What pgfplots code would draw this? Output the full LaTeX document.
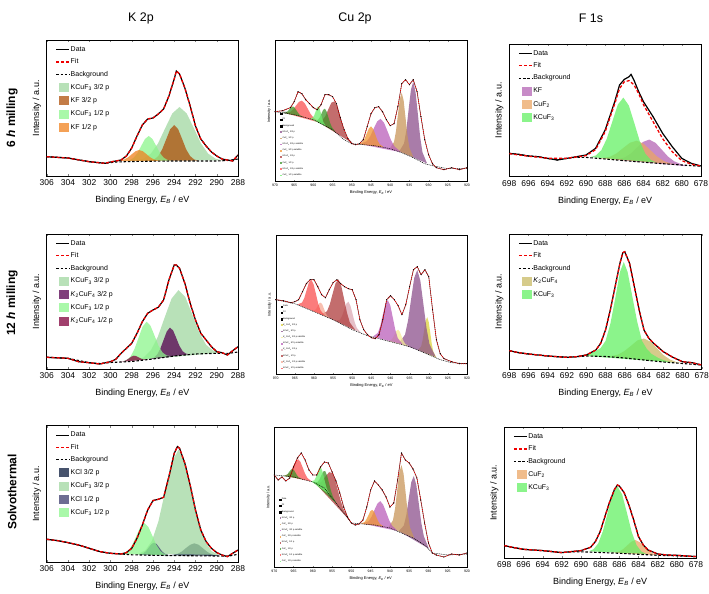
\documentclass[border=0pt]{standalone}
\usepackage{fontspec}
\setmainfont{Liberation Sans}
\usepackage{pgfplots}
\usepackage{pgfplotstable}
\pgfplotsset{compat=1.18}

% component colours
\definecolor{fitred}{RGB}{240,0,0}
\definecolor{gKa}{RGB}{160,215,160}
\definecolor{gKb}{RGB}{140,245,140}
\definecolor{kfa}{RGB}{175,80,10}
\definecolor{kfb}{RGB}{240,130,30}
\definecolor{ktwoa}{RGB}{85,0,80}
\definecolor{ktwob}{RGB}{130,0,60}
\definecolor{kcla}{RGB}{10,25,60}
\definecolor{kclb}{RGB}{60,60,110}
\definecolor{fKF}{RGB}{180,100,180}
\definecolor{fCu}{RGB}{235,165,100}
\definecolor{fK}{RGB}{100,240,100}
\definecolor{fKtwo}{RGB}{200,185,100}
\definecolor{cKa}{RGB}{140,80,140}
\definecolor{cCa}{RGB}{200,150,90}
\definecolor{cKs}{RGB}{185,95,185}
\definecolor{cCs}{RGB}{240,150,50}
\definecolor{cKb}{RGB}{175,60,60}
\definecolor{cCb}{RGB}{60,150,40}
\definecolor{cKbs}{RGB}{250,80,80}
\definecolor{cCbs}{RGB}{110,240,110}
\definecolor{cTa}{RGB}{220,210,60}
\definecolor{cTas}{RGB}{245,235,150}
\definecolor{cTb}{RGB}{220,170,180}
\definecolor{cTbs}{RGB}{245,170,150}

\pgfplotsset{
  big/.style={
    scale only axis, x dir=reverse, ytick=\empty,
    axis line style={line width=0.7bp},
    /pgf/number format/assume math mode=true,
    tick label style={font=\fontsize{8.5}{9}\selectfont},
    xtick align=inside, major tick length=2bp,
    xlabel={Binding Energy, \textit{E}\textsubscript{\textit{B}} / eV},
    ylabel={Intensity / a.u.},
    every axis x label/.style={at={(axis description cs:0.5,0)}, anchor=center, yshift=-24bp, font=\fontsize{9}{10}\selectfont},
    every axis y label/.style={at={(axis description cs:-0.052,0.5)}, rotate=90, anchor=center, font=\fontsize{9}{10}\selectfont},
    legend style={draw=none, fill=none, at={(0.03,0.975)}, anchor=north west,
      font=\fontsize{7}{8}\selectfont, row sep=4.3bp, nodes={inner sep=0.8bp}},
    legend cell align=left,
    legend image code/.code={\draw[##1] (0bp,0bp) -- (13bp,0bp);},
  },
  kax/.style={big, xmin=288, xmax=306, xtick={288,290,...,306}},
  fax/.style={big, xmin=678, xmax=698, xtick={678,680,...,698}},
  comp/.style={draw=none, fill=#1, fill opacity=0.75,
    legend image code/.code={\fill[##1] (3bp,-4.5bp) rectangle (13bp,4.5bp);}},
  cuax/.style={
    scale only axis, x dir=reverse, ytick=\empty, xmin=920, xmax=970,
    xtick={920,925,...,970},
    axis line style={line width=0.4bp},
    /pgf/number format/assume math mode=true,
    /pgf/number format/1000 sep={},
    tick label style={font=\fontsize{3.5}{4}\selectfont},
    xtick align=inside, major tick length=1bp,
    xlabel={Binding Energy, \textit{E}\textsubscript{\textit{B}} / eV},
    ylabel={Intensity / a.u.},
    every axis x label/.style={at={(axis description cs:0.5,0)}, anchor=center, yshift=-12bp, font=\fontsize{4}{5}\selectfont},
    every axis y label/.style={at={(axis description cs:-0.031,0.5)}, rotate=90, anchor=center, font=\fontsize{3.8}{4.5}\selectfont},
    legend style={draw=none, fill=none, at={(0.01,0.01)}, anchor=south west,
      font=\fontsize{2.2}{2.6}\selectfont, row sep=2.3bp, nodes={inner sep=0.4bp}},
    legend cell align=left,
    legend image code/.code={\fill[##1] (0bp,-0.8bp) rectangle (1.6bp,0.8bp);},
  },
  cc/.style={draw=none, fill=#1, fill opacity=0.75},
  datl/.style={draw=black, line width=1.2bp},
  fitl/.style={draw=fitred, color=fitred, line width=1.3bp, dash pattern=on 3bp off 2bp},
  bgl/.style={draw=black, line width=1.1bp, dash pattern=on 2.5bp off 1.8bp},
  cdat/.style={draw=black, line width=0.4bp, mark=*, mark size=0.3bp, mark options={fill=black}},
  cfit/.style={draw=fitred, color=fitred, line width=0.8bp, dash pattern=on 0.9bp off 1bp},
  cbg/.style={draw=black, line width=0.5bp, dash pattern=on 1bp off 0.8bp},
}

% measured spectra (energy, intensity)
\pgfplotstableread{
x y
306 19.3
304 18
302 14.3
300.5 12.7
300 14
299 16
298.5 20
298 28
297.5 40
297 51
296.5 57
296 58
295.5 62
295 67
294.5 80
294 97
293.8 105
293.5 102
293 88
292.5 70
292 50
291.5 37
291 30
290.5 24
290 20
289.5 17
289 16
288.5 15
288 21
}\dKa
\pgfplotstableread{
x y
306 6.7
304 5.7
303 2.3
302 1.3
301 0
300 2.3
299.5 4.7
299 10.7
298.5 15.7
298 20.7
297.5 30.7
297 42.3
296.5 50.7
296 54
295.5 56.7
295 64
294.5 84
294 99
293.8 99
293.5 95.7
293 80.7
292.5 60.7
292 44
291.5 30.7
291 24
290.5 17.3
290 12.3
289.5 11.3
289 9
288.5 13.3
288 17.3
}\dKb
\pgfplotstableread{
x y
306 23
305 21.7
304 19.7
303 17.3
302 14
301 10.7
300 9
299 8.3
298.5 9.7
298 14
297.5 24
297 37.3
296.5 52.3
296 61.7
295.5 63
295 65
294.5 85.7
294 109
293.7 115.7
293.5 114
293 99
292.5 77.3
292 52.3
291.5 32.3
291 20.7
290.5 14
290 9.7
289.5 7.3
289 5.7
288.5 9
288 12.3
}\dKc
\pgfplotstableread{
x y
970 65
968 66
966 69
965 75
964 85
963 83
962 77
961 73
960 69
959 67
958 72
957 82
956 82
955 80
954 73
953 59
952 47
951 38
950 33
949 32
948 33
947 37
946 50
945 63
944 69
943 70
942 65
941 57
940 51
939 53
938 70
937 93
936 97
935 92
934 97
933 85
932 60
931 37
930 22
929 13
928 9
926 7
924 9
922 7
920 9
}\dCa
\pgfplotstableread{
x y
970 72
968 71
966 69
965 70
964 72
963 80
962 88
961 92
960 92
959 85
958 77
957 74
956 82
955 89
954 92
953 88
952 85
951 83
950 82
949 72
948 52
947 42
946 37
945 34
944 33
943 37
942 52
941 72
940 76
939 72
938 66
937 57
936 67
935 85
934 102
933 105
932 97
931 102
930 95
929 62
928 32
927 18
926 13
924 10
922 8
920 8
}\dCb
\pgfplotstableread{
x y
970 91
969 86
968 89
967 85
966 88
965 99
964 108
963 113
962 106
961 96
960 91
959 91
958 99
957 104
956 103
955 94
954 85
953 73
952 59
951 49
950 43
949 41
948 42
947 46
946 59
945 76
944 85
943 81
942 76
941 69
940 59
939 63
938 86
937 113
936 106
935 103
934 97
933 88
932 66
931 43
930 23
929 13
928 11
926 9
924 12
922 11
920 13
}\dCc
\pgfplotstableread{
x y
698 23.3
697 22.3
696 20.7
695 20
694 18.3
693 16.7
692 18.3
691 20
690 21.7
689 28.3
688 46.7
687 75
686.5 91.7
686 97.3
685.5 100
685.3 102.3
685 96.7
684.5 85
684 75
683 60
682 43.3
681 30
680 18.3
679 13.3
678 10.7
}\dFa
\pgfplotstableread{
x y
698 18.3
697 16.3
696 15
695 14
694 13
693 12.3
692 11.7
691 12.3
690 14
689 19
688.5 25.7
688 39
687.5 59
687 82.3
686.5 105.7
686.2 116.3
686 117.3
685.5 105.7
685 82.3
684.5 59
684 39
683.5 30.7
683 25.7
682 17.3
681 11.7
680 7.3
679 6.3
678 4
}\dFb
\pgfplotstableread{
x y
698 12.7
697 10.7
696 9
695 8.3
694 7.7
693 6.7
692 5.7
691 6.7
690 7.7
689 11
688.5 16.7
688 26.7
687.5 41.7
687 56.7
686.5 69
686.2 73.3
686 72.3
685.5 65.7
685 53.3
684.5 38.3
684 21.7
683.5 13.3
683 8.3
682 4.3
681 3.3
680 3
679 2.3
678 1.7
}\dFc

\begin{document}
\begin{tikzpicture}
\path[use as bounding box] (0,0) rectangle (709bp,594bp);

\node[font=\fontsize{12.5}{14}\selectfont] at (141bp,576bp) {K 2p};
\node[font=\fontsize{12.5}{14}\selectfont] at (355bp,576bp) {Cu 2p};
\node[font=\fontsize{12.5}{14}\selectfont] at (591bp,576bp) {F 1s};
\node[rotate=90, font=\bfseries\fontsize{12}{14}\selectfont] at (12bp,476bp) {6 \textit{h} milling};
\node[rotate=90, font=\bfseries\fontsize{12}{14}\selectfont] at (12bp,291bp) {12 \textit{h} milling};
\node[rotate=90, font=\bfseries\fontsize{12}{14}\selectfont] at (12bp,102bp) {Solvothermal};

% ---------------- row 1: 6 h milling ----------------
\begin{axis}[kax, at={(46.7bp,418bp)}, anchor=south west, width=191.3bp, height=135.7bp, ymin=0, ymax=135.7]
\addlegendimage{datl}\addlegendentry{Data}
\addlegendimage{fitl}\addlegendentry{Fit}
\addlegendimage{bgl}\addlegendentry{Background}
\addplot[comp=gKa] coordinates {(289.45,15.6)(290.13,17.4)(290.8,22.3)(291.48,32.5)(292.15,47.8)(292.83,62.6)(293.5,69)(294.18,62.6)(294.85,47.8)(295.53,32.5)(296.2,22.3)(296.88,17.4)(297.55,15.6)} -- cycle;
\addlegendentry{KCuF\textsubscript{3} 3/2 p}
\addplot[comp=kfa] coordinates {(291.75,15.4)(292.13,16.6)(292.5,19.9)(292.88,26.7)(293.25,36.8)(293.63,46.8)(294,51)(294.38,46.8)(294.75,36.8)(295.13,26.7)(295.5,19.9)(295.88,16.6)(296.25,15.4)} -- cycle;
\addlegendentry{KF 3/2 p}
\addplot[comp=gKb] coordinates {(294.3,15.3)(294.65,16.1)(295,18.4)(295.35,23.1)(295.7,30.2)(296.05,37)(296.4,40)(296.75,37)(297.1,30.2)(297.45,23.1)(297.8,18.4)(298.15,16.1)(298.5,15.3)} -- cycle;
\addlegendentry{KCuF\textsubscript{3} 1/2 p}
\addplot[comp=kfb] coordinates {(295.2,15.1)(295.55,15.5)(295.9,16.5)(296.25,18.6)(296.6,21.7)(296.95,24.7)(297.3,26)(297.65,24.7)(298,21.7)(298.35,18.6)(298.7,16.5)(299.05,15.5)(299.4,15.1)} -- cycle;
\addlegendentry{KF 1/2 p}
\addplot[bgl, forget plot] coordinates {(306,19.3)(304,18)(302,14.3)(300.5,12.7)(299.5,14)(298,14.5)(296,14.8)(294,15)(292,15)(290,15)(289,15.5)(288,17)};
\addplot[datl, forget plot] table {\dKa};
\addplot[fitl, forget plot] table {\dKa};
\end{axis}

\begin{axis}[cuax, at={(275bp,413bp)}, anchor=south west, width=192bp, height=140.3bp, ymin=-4.3, ymax=136]
\addlegendimage{fill=gray!60}\addlegendentry{Data}
\addlegendimage{fill=fitred}\addlegendentry{Fit}
\addlegendimage{fill=black}\addlegendentry{Background}
\addplot[cc=cKa] coordinates {(930.4,13.2)(931.6,24.5)(932.2,39.7)(932.8,63)(933.4,84.7)(934,95)(934.6,86.9)(935.2,67.4)(935.8,46.3)(936.4,33.3)(937.6,25.6)} -- cycle;
\addlegendentry{KCuF\textsubscript{3} 3/2 p}
\addplot[cc=cCa] coordinates {(934,19.7)(935,28.8)(935.5,40.9)(936,58.7)(936.5,76.2)(937,84)(937.5,77.7)(938,61.7)(938.5,45.4)(939,34.8)(940,28.7)} -- cycle;
\addlegendentry{CuF\textsubscript{2} 3/2 p}
\addplot[cc=cKs] coordinates {(937.1,24.4)(938.9,30.3)(939.8,36.7)(940.7,45.5)(941.6,53.9)(942.5,57.9)(943.4,55.2)(944.3,48.1)(945.2,40.4)(946.1,35.5)(947.9,32.6)} -- cycle;
\addlegendentry{KCuF\textsubscript{3} 3/2 p satellite}
\addplot[cc=cCs] coordinates {(941.7,29.5)(942.8,32.7)(943.35,36.6)(943.9,42.5)(944.45,47.9)(945,50.3)(945.55,48.3)(946.1,43.3)(946.65,38)(947.2,34.7)(948.3,32.6)} -- cycle;
\addlegendentry{CuF\textsubscript{2} 3/2 p satellite}
\addplot[cc=cKb] coordinates {(949.7,33.2)(951.3,39.6)(952.1,46.9)(952.9,58.3)(953.7,69.2)(954.5,75.3)(955.3,74.1)(956.1,67.5)(956.9,60.4)(957.7,56.4)(959.3,55.9)} -- cycle;
\addlegendentry{KCuF\textsubscript{3} 1/2 p}
\addplot[cc=cCb] coordinates {(954.3,44.9)(955.2,49.7)(955.65,53.8)(956.1,59.5)(956.55,65.1)(957,68)(957.45,66.9)(957.9,63.1)(958.35,59.2)(958.8,56.9)(959.7,56.6)} -- cycle;
\addlegendentry{CuF\textsubscript{2} 1/2 p}
\addplot[cc=cKbs] coordinates {(958.5,54.2)(960,59.2)(960.75,62.9)(961.5,68.2)(962.25,73.4)(963,76)(963.75,74.9)(964.5,71.2)(965.25,67.3)(966,64.8)(967.5,63.7)} -- cycle;
\addlegendentry{KCuF\textsubscript{3} 1/2 p satellite}
\addplot[cc=cCbs] coordinates {(956.6,50.4)(957.3,53.8)(957.65,57.4)(958,62.7)(958.35,67.8)(958.7,70.4)(959.05,69.2)(959.4,65.5)(959.75,61.6)(960.1,59.3)(960.8,57.8)} -- cycle;
\addlegendentry{CuF\textsubscript{2} 1/2 p satellite}
\addplot[cc=cCb, forget plot] coordinates {(962.6,59.7)(963.5,61.6)(963.95,63.6)(964.4,66.3)(964.85,68.9)(965.3,70.2)(965.75,69.5)(966.2,67.6)(966.65,65.6)(967.1,64.4)(968,63.9)} -- cycle;
\addplot[cbg, forget plot] coordinates {(920,8)(925,8)(929,11)(931,13)(934,19)(937,24)(940,28)(944,31)(947,32)(950,33)(952,37)(955,47)(960,57)(965,62)(970,65)};
\addplot[cdat, forget plot] table {\dCa};
\addplot[cfit, forget plot] table {\dCa};
\end{axis}

\begin{axis}[fax, at={(509.3bp,417.3bp)}, anchor=south west, width=191.7bp, height=132.7bp, ymin=0, ymax=132.7]
\addlegendimage{datl}\addlegendentry{Data}
\addlegendimage{fitl}\addlegendentry{Fit}
\addlegendimage{bgl}\addlegendentry{Background}
\addplot[comp=fKF] coordinates {(679.5,10.5)(680.15,12.8)(680.8,15.4)(681.45,20.2)(682.1,27.1)(682.75,33.9)(683.4,37.1)(684.05,34.8)(684.7,29)(685.35,23)(686,19.1)(686.65,17.5)(687.3,17.3)} -- cycle;
\addlegendentry{KF}
\addplot[comp=fCu] coordinates {(680.5,12.1)(681.2,13.3)(681.9,15.7)(682.6,20.3)(683.3,26.7)(684,33)(684.7,36)(685.4,34)(686.1,28.8)(686.8,23.4)(687.5,20)(688.2,18.7)(688.9,18.6)} -- cycle;
\addlegendentry{CuF\textsubscript{2}}
\addplot[comp=fK] coordinates {(682.65,14.2)(683.23,16.7)(683.8,22.9)(684.38,35.3)(684.95,53.4)(685.53,71.2)(686.1,79.1)(686.68,72.1)(687.25,55.2)(687.83,38)(688.4,26.5)(688.98,21.2)(689.55,19.6)} -- cycle;
\addlegendentry{KCuF\textsubscript{3}}
\addplot[bgl, forget plot] coordinates {(698,23.3)(697,22.3)(696,20.7)(695,20)(694,18.3)(693,16.7)(692,18.3)(691,19.5)(690,19.3)(688,17.7)(686,16)(684,14.5)(682,13)(680,11.7)(678,10.5)};
\addplot[datl, forget plot] table {\dFa};
\addplot[fitl, forget plot] coordinates {(698,23)(696,20.5)(694,18.5)(692,18.5)(690,21)(689,27)(688,45)(687,73)(686.5,88)(686,95)(685.5,96)(685,92)(684.5,83)(684,72)(683,55)(682,38)(681,25)(680,16)(679,12.5)(678,10.7)};
\end{axis}

% ---------------- row 2: 12 h milling ----------------
\begin{axis}[kax, at={(46.7bp,225bp)}, anchor=south west, width=191.3bp, height=135bp, ymin=-5, ymax=130]
\addlegendimage{datl}\addlegendentry{Data}
\addlegendimage{fitl}\addlegendentry{Fit}
\addlegendimage{bgl}\addlegendentry{Background}
\addplot[comp=gKa] coordinates {(289.7,11.3)(290.35,13.5)(291,19.2)(291.65,31.4)(292.3,49.5)(292.95,66.9)(293.6,73.9)(294.25,65.4)(294.9,46.5)(295.55,27)(296.2,13.6)(296.85,6.8)(297.5,3.8)} -- cycle;
\addlegendentry{KCuF\textsubscript{3} 3/2 p}
\addplot[comp=ktwoa] coordinates {(292.6,9.7)(292.9,10.4)(293.2,12.7)(293.5,17.9)(293.8,25.8)(294.1,33.4)(294.4,36.4)(294.7,32.5)(295,24.1)(295.3,15.5)(295.6,9.5)(295.9,6.5)(296.2,5)} -- cycle;
\addlegendentry{\textit{K}\textsubscript{2}CuF\textsubscript{4} 3/2 p}
\addplot[comp=gKb] coordinates {(294.35,7.9)(294.73,8.6)(295.1,11.5)(295.48,18.2)(295.85,28.3)(296.23,38.2)(296.6,42.3)(296.98,37.3)(297.35,26.4)(297.73,15.3)(298.1,7.6)(298.48,4)(298.85,2.5)} -- cycle;
\addlegendentry{KCuF\textsubscript{3} 1/2 p}
\addplot[comp=ktwob] coordinates {(296.45,4.5)(296.9,4.6)(297.13,5.4)(297.35,6.6)(297.58,7.9)(297.8,8.3)(298.03,7.4)(298.25,5.7)(298.48,4.1)(298.7,2.9)(299.15,2.1)} -- cycle;
\addlegendentry{\textit{K}\textsubscript{2}CuF\textsubscript{4} 1/2 p}
\addplot[bgl, forget plot] coordinates {(306,6.7)(304,5.7)(302,1.3)(301,0.5)(300,1.5)(299,2)(298,2.5)(296,5)(294,8)(292,10)(290,10.7)(289,10.5)(288,12)};
\addplot[datl, forget plot] table {\dKb};
\addplot[fitl, forget plot] table {\dKb};
\end{axis}

\begin{axis}[cuax, at={(275.7bp,220bp)}, anchor=south west, width=191.3bp, height=139bp, ymin=-2.3, ymax=136.7]
\addlegendimage{fill=gray!60}\addlegendentry{Data}
\addlegendimage{fill=fitred}\addlegendentry{Fit}
\addlegendimage{fill=black}\addlegendentry{Background}
\addplot[cc=cTa] coordinates {(928,14.1)(928.8,20)(929.2,27.7)(929.6,38.8)(930,49.6)(930.4,54.6)(930.8,50.9)(931.2,41.4)(931.6,31.6)(932,25.2)(932.8,21.9)} -- cycle;
\addlegendentry{\textit{K}\textsubscript{2}CuF\textsubscript{4} 3/2 p}
\addplot[cc=cKa] coordinates {(928.2,14.9)(929.8,27.5)(930.6,44)(931.4,67.7)(932.2,91.1)(933,101.8)(933.8,93.7)(934.6,72.9)(935.4,51.4)(936.2,37)(937.8,28.7)} -- cycle;
\addlegendentry{KCuF\textsubscript{3} 3/2 p}
\addplot[cc=cTas] coordinates {(935.3,25.5)(936.2,28.1)(936.65,31.2)(937.1,35.6)(937.55,39.9)(938,42)(938.45,40.8)(938.9,37.4)(939.35,33.9)(939.8,31.7)(940.7,30.9)} -- cycle;
\addlegendentry{\textit{K}\textsubscript{2}CuF\textsubscript{4} 3/2 p satellite}
\addplot[cc=cKs] coordinates {(936.8,27.3)(938.1,33.6)(938.75,42)(939.4,54.3)(940.05,66.3)(940.7,71.7)(941.35,67.6)(942,56.9)(942.65,46)(943.3,38.8)(944.6,35.1)} -- cycle;
\addlegendentry{KCuF\textsubscript{3} 3/2 p satellite}
\addplot[cc=cTb] coordinates {(947.7,38.9)(948.8,43.7)(949.35,49.4)(949.9,57.7)(950.45,65.8)(951,70)(951.55,68)(952.1,62)(952.65,55.7)(953.2,51.9)(954.3,50.9)} -- cycle;
\addlegendentry{\textit{K}\textsubscript{2}CuF\textsubscript{4} 1/2 p}
\addplot[cc=cKb] coordinates {(949.1,41.2)(950.6,49)(951.35,58.7)(952.1,72.3)(952.85,85.6)(953.6,92.2)(954.35,88.6)(955.1,78.3)(955.85,67.4)(956.6,60.4)(958.1,57.5)} -- cycle;
\addlegendentry{KCuF\textsubscript{3} 1/2 p}
\addplot[cc=cTbs] coordinates {(955.8,53.4)(956.6,56.2)(957,59.1)(957.4,63.1)(957.8,67.1)(958.2,69.1)(958.6,68.4)(959,65.7)(959.4,62.9)(959.8,61.3)(960.6,61.1)} -- cycle;
\addlegendentry{\textit{K}\textsubscript{2}CuF\textsubscript{4} 1/2 p satellite}
\addplot[cc=cKbs] coordinates {(957.1,55.7)(958.3,61.5)(958.9,68.2)(959.5,78)(960.1,87.5)(960.7,92.1)(961.3,89.4)(961.9,81.8)(962.5,74)(963.1,69.2)(964.3,67.2)} -- cycle;
\addlegendentry{KCuF\textsubscript{3} 1/2 p satellite}
\addplot[cbg, forget plot] coordinates {(920,8)(924,9)(927,12)(930,17)(935,25)(940,30)(943,33)(946,36)(950,42)(955,52)(960,60)(965,68)(970,72)};
\addplot[cdat, forget plot] table {\dCb};
\addplot[cfit, forget plot] table {\dCb};
\end{axis}

\begin{axis}[fax, at={(509.3bp,225bp)}, anchor=south west, width=192.4bp, height=135bp, ymin=0, ymax=135]
\addlegendimage{datl}\addlegendentry{Data}
\addlegendimage{fitl}\addlegendentry{Fit}
\addlegendimage{bgl}\addlegendentry{Background}
\addplot[comp=fKtwo] coordinates {(679.95,5.7)(680.63,6.9)(681.3,9.5)(681.98,14)(682.65,20.6)(683.33,27.3)(684,30.5)(684.68,28.6)(685.35,23.2)(686.03,18)(686.7,14.4)(687.38,13)(688.05,12.7)} -- cycle;
\addlegendentry{\textit{K}\textsubscript{2}CuF\textsubscript{4}}
\addplot[comp=fK] coordinates {(681,6.5)(681.5,7.5)(682,9)(682.5,11)(683.2,15)(683.7,20)(684.2,28)(684.7,47)(685.2,72)(685.7,97)(686.1,107)(686.5,97)(687,70)(687.5,45)(688,28)(688.5,21)(689,18)(689.5,16)(690,14.5)(690.5,13.3)} -- cycle;
\addlegendentry{KCuF\textsubscript{3}}
\addplot[bgl, forget plot] coordinates {(698,18.3)(697,16.3)(696,15)(695,14)(694,13)(693,12.3)(692,11.7)(691,12.3)(690,13)(688,12.5)(686,11)(684,9)(682,7)(680,5.5)(678,4)};
\addplot[datl, forget plot] table {\dFb};
\addplot[fitl, forget plot] table {\dFb};
\end{axis}

% ---------------- row 3: solvothermal ----------------
\begin{axis}[kax, at={(46.7bp,31.7bp)}, anchor=south west, width=191.3bp, height=136.7bp, ymin=0, ymax=136.7]
\addlegendimage{datl}\addlegendentry{Data}
\addlegendimage{fitl}\addlegendentry{Fit}
\addlegendimage{bgl}\addlegendentry{Background}
\addplot[comp=kcla] coordinates {(289.7,6.4)(290.5,8.1)(290.9,10.5)(291.3,14)(291.7,17.5)(292.1,19)(292.5,17.5)(292.9,14.2)(293.3,10.7)(293.7,8.4)(294.5,6.9)} -- cycle;
\addlegendentry{KCl 3/2 p}
\addplot[comp=gKa] coordinates {(289.85,7.5)(290.48,11.1)(291.1,20.7)(291.73,40.9)(292.35,70.9)(292.98,100.1)(293.6,112.7)(294.23,100.2)(294.85,71.1)(295.48,41.3)(296.1,21.3)(296.73,11.8)(297.35,8.5)} -- cycle;
\addlegendentry{KCuF\textsubscript{3} 3/2 p}
\addplot[comp=kclb] coordinates {(294.4,6.9)(294.9,8.6)(295.15,11)(295.4,14.6)(295.65,18.2)(295.9,19.7)(296.15,18.2)(296.4,14.8)(296.65,11.2)(296.9,8.9)(297.4,7.4)} -- cycle;
\addlegendentry{KCl 1/2 p}
\addplot[comp=gKb] coordinates {(294.55,7.2)(294.93,8.3)(295.3,11.2)(295.68,17.4)(296.05,26.4)(296.43,35.3)(296.8,39.2)(297.18,35.5)(297.55,26.7)(297.93,17.8)(298.3,11.8)(298.68,9)(299.05,8.1)} -- cycle;
\addlegendentry{KCuF\textsubscript{3} 1/2 p}
\addplot[bgl, forget plot] coordinates {(306,23)(305,21.7)(304,19.7)(303,17.3)(302,14)(301,10.7)(300,9)(299,8.3)(298,7.5)(296,7)(294,6.7)(292,6.5)(290,6.3)(289,6)(288,8)};
\addplot[datl, forget plot] table {\dKc};
\addplot[fitl, forget plot] table {\dKc};
\end{axis}

\begin{axis}[cuax, at={(274.3bp,27bp)}, anchor=south west, width=192.7bp, height=139.7bp, ymin=-1, ymax=138.7]
\addlegendimage{fill=gray!60}\addlegendentry{Data}
\addlegendimage{fill=fitred}\addlegendentry{Fit}
\addlegendimage{fill=black}\addlegendentry{Background}
\addplot[cc=cKa] coordinates {(929.9,17.3)(931.2,29.9)(931.85,43)(932.5,62.4)(933.15,81.1)(933.8,90)(934.45,83.9)(935.1,67.7)(935.75,50.9)(936.4,40.4)(937.7,34.9)} -- cycle;
\addlegendentry{KCuF\textsubscript{3} 3/2 p}
\addplot[cc=cCa] coordinates {(933.7,28)(934.8,38.5)(935.35,52.3)(935.9,72.5)(936.45,92.1)(937,101)(937.55,93.9)(938.1,76.1)(938.65,57.8)(939.2,45.9)(940.3,38.9)} -- cycle;
\addlegendentry{CuF\textsubscript{2} 3/2 p}
\addplot[cc=cKs] coordinates {(938,35)(939.5,40.6)(940.25,46.3)(941,54)(941.75,61.3)(942.5,64.9)(943.25,62.4)(944,56.2)(944.75,49.4)(945.5,44.9)(947,42.3)} -- cycle;
\addlegendentry{KCuF\textsubscript{3} 3/2 p satellite}
\addplot[cc=cCs] coordinates {(941.6,39.4)(942.6,42)(943.1,45.2)(943.6,49.8)(944.1,54.2)(944.6,56.2)(945.1,54.6)(945.6,50.6)(946.1,46.6)(946.6,43.9)(947.6,42.4)} -- cycle;
\addlegendentry{CuF\textsubscript{2} 3/2 p satellite}
\addplot[cc=cKb] coordinates {(950.5,45.8)(952,56.4)(952.75,64.9)(953.5,75.7)(954.25,86.3)(955,93)(955.75,93.8)(956.5,90.7)(957.25,86.6)(958,83.4)(959.5,83.3)} -- cycle;
\addlegendentry{KCuF\textsubscript{3} 1/2 p}
\addplot[cc=cCb] coordinates {(953.8,62.2)(954.8,69.4)(955.3,75.3)(955.8,82.9)(956.3,90.4)(956.8,95)(957.3,94.5)(957.8,90.5)(958.3,86.4)(958.8,84)(959.8,83.8)} -- cycle;
\addlegendentry{CuF\textsubscript{2} 1/2 p}
\addplot[cc=cKbs] coordinates {(960.2,84.4)(961.4,88)(962,92.2)(962.6,98.1)(963.2,104)(963.8,106.8)(964.4,105.2)(965,100.5)(965.6,95.4)(966.2,92.1)(967.4,90.2)} -- cycle;
\addlegendentry{KCuF\textsubscript{3} 1/2 p satellite}
\addplot[cc=cCbs] coordinates {(955.6,71.2)(956.4,77.6)(956.8,83.2)(957.2,89.9)(957.6,96)(958,99)(958.4,97.6)(958.8,93.1)(959.2,88.6)(959.6,85.8)(960.4,84.6)} -- cycle;
\addlegendentry{CuF\textsubscript{2} 1/2 p satellite}
\addplot[cc=cCb, forget plot] coordinates {(962.9,87)(963.7,88.8)(964.1,90.7)(964.5,93.4)(964.9,95.9)(965.3,97.1)(965.7,96.3)(966.1,94.3)(966.5,92.2)(966.9,90.9)(967.7,90.2)} -- cycle;
\addplot[cbg, forget plot] coordinates {(920,12)(925,11)(929,13)(931,21)(934,28)(937,33)(940,38)(944,41)(947,42)(950,43)(952,53)(955,68)(957,78)(960,84)(965,89)(970,91)};
\addplot[cdat, forget plot] table {\dCc};
\addplot[cfit, forget plot] table {\dCc};
\end{axis}

\begin{axis}[fax, at={(504.3bp,35.7bp)}, anchor=south west, width=191.7bp, height=131bp, ymin=0, ymax=131]
\addlegendimage{datl}\addlegendentry{Data}
\addlegendimage{fitl}\addlegendentry{Fit}
\addlegendimage{bgl}\addlegendentry{Background}
\addplot[comp=fCu] coordinates {(681.75,3.1)(682.18,3.7)(682.6,5.2)(683.03,8)(683.45,12.2)(683.88,16.2)(684.3,18.2)(684.73,16.7)(685.15,13.1)(685.58,9.3)(686,6.9)(686.43,5.8)(686.85,5.6)} -- cycle;
\addlegendentry{CuF\textsubscript{2}}
\addplot[comp=fK] coordinates {(683.2,4.4)(683.7,6.8)(684.2,13.1)(684.7,26.1)(685.2,45.2)(685.7,63.8)(686.2,72.1)(686.7,64.4)(687.2,46.2)(687.7,27.5)(688.2,14.9)(688.7,9)(689.2,7)} -- cycle;
\addlegendentry{KCuF\textsubscript{3}}
\addplot[bgl, forget plot] coordinates {(698,12.7)(697,10.7)(696,9)(695,8.3)(694,7.7)(693,6.7)(692,5.7)(691,6.5)(690,6.5)(688,5.8)(686,5)(684,4)(682,3)(680,2.5)(678,1.7)};
\addplot[datl, forget plot] table {\dFc};
\addplot[fitl, forget plot] table {\dFc};
\end{axis}
\end{tikzpicture}
\end{document}
